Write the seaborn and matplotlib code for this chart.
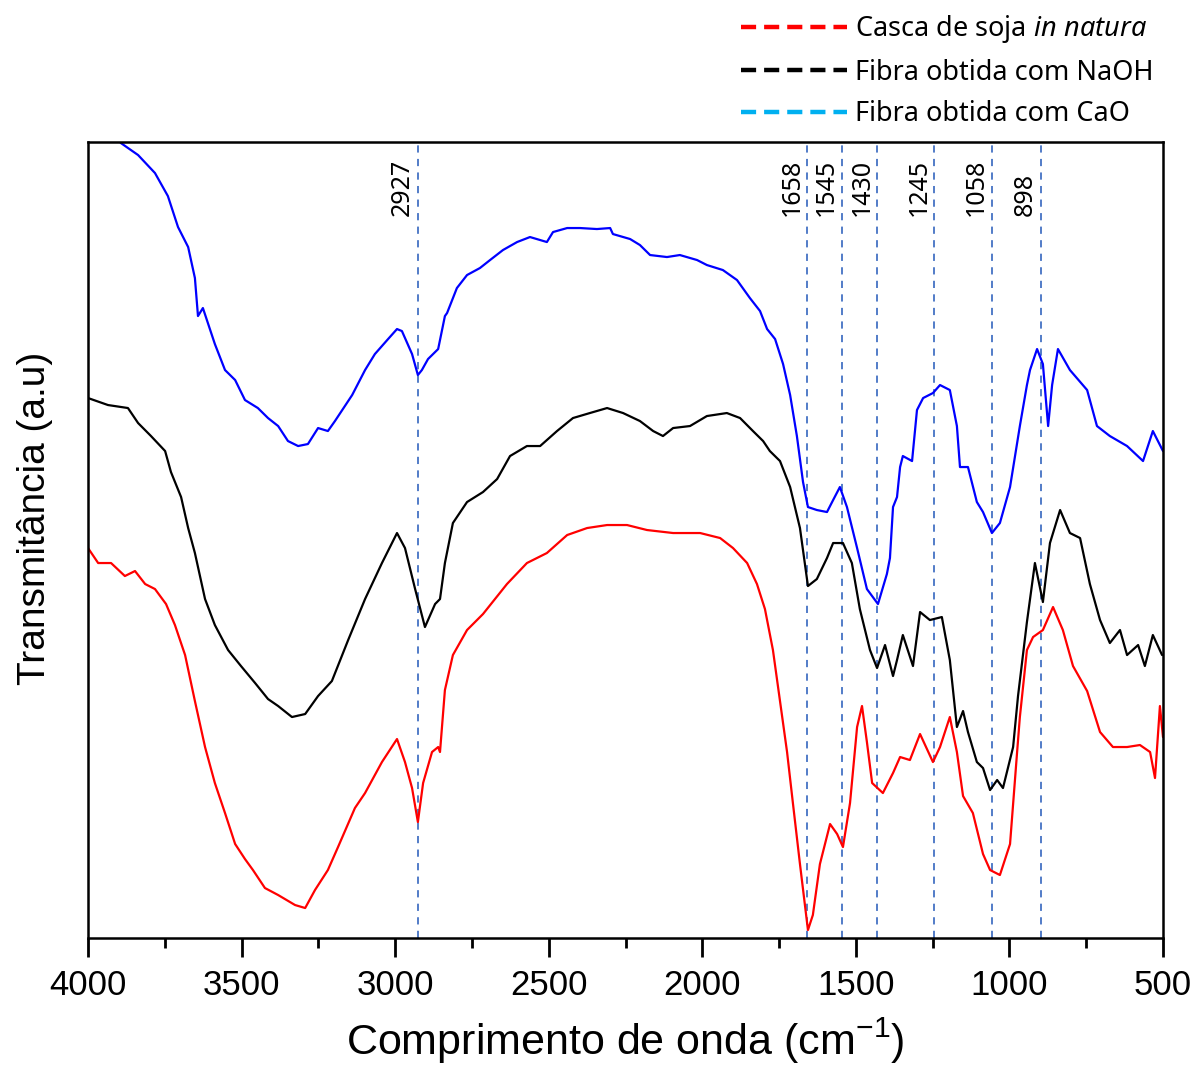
import pandas as pd
import numpy as np
import matplotlib
matplotlib.use("Agg")
import matplotlib.pyplot as plt
from matplotlib.lines import Line2D
from matplotlib.ticker import MultipleLocator, NullLocator
import seaborn as sns

# FTIR spectra (wavenumber cm-1, transmittance a.u.)
blue_w = [3905, 3893, 3837, 3782, 3740, 3707, 3674, 3652, 3642, 3626, 3587, 3554, 3521, 3489, 3447, 3414,
          3381, 3349, 3316, 3284, 3251, 3219, 3196, 3140, 3098, 3066, 3023, 2994, 2978, 2945, 2926, 2913,
          2893, 2860, 2838, 2831, 2799, 2766, 2724, 2691, 2649, 2603, 2561, 2506, 2486, 2440, 2398, 2343,
          2300, 2291, 2235, 2203, 2170, 2115, 2073, 2017, 1985, 1933, 1887, 1845, 1812, 1789, 1763, 1737,
          1714, 1692, 1672, 1656, 1627, 1594, 1574, 1552, 1529, 1496, 1464, 1428, 1399, 1389, 1379, 1366,
          1356, 1347, 1317, 1301, 1281, 1249, 1226, 1194, 1171, 1161, 1135, 1106, 1086, 1057, 1031, 998,
          966, 943, 933, 910, 891, 874, 861, 842, 803, 747, 715, 673, 617, 565, 533, 500]
blue_t = [800, 795, 783, 765, 742, 711, 691, 660, 622, 630, 594, 568, 558, 538, 530, 520,
          512, 497, 492, 494, 510, 507, 517, 543, 568, 584, 599, 609, 607, 584, 563, 568,
          579, 589, 622, 625, 650, 663, 670, 678, 688, 696, 701, 696, 706, 710, 710, 709,
          710, 704, 699, 693, 683, 681, 683, 678, 673, 668, 658, 640, 627, 609, 599, 574,
          543, 502, 456, 431, 428, 426, 438, 451, 431, 390, 349, 334, 364, 380, 431, 441,
          471, 482, 477, 528, 540, 545, 553, 548, 512, 471, 471, 436, 426, 405, 415, 451,
          512, 553, 568, 589, 574, 512, 553, 589, 568, 548, 512, 502, 492, 477, 507, 487]

black_w = [4000, 3935, 3870, 3837, 3795, 3749, 3730, 3697, 3674, 3652, 3619, 3587, 3544, 3502, 3456, 3414,
           3381, 3336, 3293, 3251, 3206, 3153, 3098, 3043, 2994, 2968, 2935, 2903, 2870, 2854, 2838, 2812,
           2766, 2714, 2668, 2626, 2571, 2528, 2473, 2421, 2366, 2310, 2258, 2203, 2160, 2128, 2095, 2040,
           1985, 1920, 1877, 1835, 1802, 1780, 1747, 1714, 1682, 1656, 1627, 1594, 1574, 1542, 1513, 1487,
           1454, 1431, 1405, 1379, 1366, 1347, 1314, 1291, 1259, 1220, 1194, 1171, 1151, 1135, 1106, 1086,
           1063, 1040, 1021, 988, 972, 943, 917, 891, 868, 835, 803, 770, 738, 705, 673, 640, 617, 581,
           559, 533, 503]
black_t = [540, 533, 530, 515, 502, 487, 466, 441, 410, 385, 339, 313, 288, 272, 255, 239,
           232, 221, 224, 242, 257, 298, 339, 375, 405, 390, 349, 311, 334, 339, 375, 415,
           436, 446, 459, 482, 492, 492, 507, 520, 525, 530, 525, 517, 507, 502, 510, 512,
           522, 525, 520, 507, 497, 487, 477, 451, 410, 352, 359, 380, 395, 395, 375, 329,
           288, 270, 293, 262, 278, 303, 272, 326, 318, 321, 278, 211, 227, 206, 176, 170,
           148, 158, 150, 191, 242, 316, 375, 336, 395, 428, 405, 400, 354, 318, 295, 308, 283, 293,
           272, 303, 283]

red_w = [4000, 3967, 3925, 3880, 3847, 3814, 3782, 3746, 3717, 3684, 3652, 3619, 3587, 3554, 3521, 3489,
         3463, 3424, 3381, 3326, 3293, 3261, 3219, 3186, 3131, 3098, 3043, 2994, 2968, 2945, 2926, 2909,
         2880, 2860, 2854, 2838, 2812, 2766, 2714, 2636, 2571, 2506, 2440, 2375, 2310, 2245, 2180, 2095,
         2007, 1942, 1900, 1854, 1822, 1796, 1770, 1747, 1724, 1705, 1682, 1656, 1640, 1617, 1584, 1561,
         1542, 1519, 1496, 1480, 1464, 1447, 1412, 1379, 1356, 1324, 1291, 1249, 1226, 1194, 1171, 1151,
         1119, 1086, 1063, 1031, 998, 975, 966, 943, 923, 891, 858, 826, 793, 747, 705, 663,
         617, 575, 542, 526, 510, 500]
red_t = [390, 375, 375, 362, 367, 354, 349, 334, 313, 283, 237, 191, 155, 125, 94, 79,
         68, 50, 43, 33, 30, 48, 68, 91, 130, 145, 176, 199, 176, 150, 116, 155,
         186, 191, 186, 248, 283, 308, 324, 354, 375, 385, 403, 410, 413, 413, 408, 405,
         405, 400, 390, 375, 354, 329, 288, 237, 186, 135, 74, 8, 23, 74, 114, 104,
         91, 135, 211, 232, 196, 155, 145, 165, 181, 178, 204, 176, 191, 221, 186, 142,
         125, 84, 68, 63, 94, 186, 221, 288, 301, 308, 331, 308, 272, 247, 206, 191,
         191, 193, 186, 160, 232, 201]

peaks = [2927, 1658, 1545, 1430, 1245, 1058, 898]

names = ["Casca de soja in natura", "Fibra obtida com NaOH", "Fibra obtida com CaO"]
legend_labels = [r"Casca de soja $\mathit{in\ natura}$", "Fibra obtida com NaOH", "Fibra obtida com CaO"]
legend_colors = ["#FF0000", "#000000", "#00B0F0"]
curve_colors = {names[0]: "#FF0000", names[1]: "#000000", names[2]: "#0000FF"}

df = pd.concat([
    pd.DataFrame({"w": red_w, "t": red_t, "amostra": names[0]}),
    pd.DataFrame({"w": black_w, "t": black_t, "amostra": names[1]}),
    pd.DataFrame({"w": blue_w, "t": blue_t, "amostra": names[2]}),
])

sns.set_style("ticks", {"axes.edgecolor": "black", "text.color": "black",
                        "axes.labelcolor": "black", "xtick.color": "black"})
plt.rcParams["font.family"] = ["Liberation Sans", "DejaVu Sans"]
plt.rcParams["mathtext.fontset"] = "custom"
plt.rcParams["mathtext.rm"] = "Noto Sans"
plt.rcParams["mathtext.it"] = "Noto Sans:italic"
plt.rcParams["mathtext.sf"] = "Liberation Sans"

fig = plt.figure(figsize=(11.96, 10.68), dpi=100)
ax = fig.add_axes([0.0736, 0.1217, 0.8988, 0.7453])

sns.lineplot(data=df, x="w", y="t", hue="amostra", palette=curve_colors,
             estimator=None, sort=False, linewidth=1.6, legend=False, ax=ax)

for p in peaks:
    ax.axvline(p, color="#4472C4", lw=1.3, ls=(0, (4, 3.5)), zorder=1)
    ax.text(p + 50, 722, str(p), rotation=90, ha="center", va="bottom",
            fontsize=18, color="black", family=["Noto Sans", "DejaVu Sans"])

ax.set_xlim(4000, 500)
ax.set_ylim(0, 796)
ax.xaxis.set_major_locator(MultipleLocator(500))
ax.xaxis.set_minor_locator(MultipleLocator(250))
ax.yaxis.set_major_locator(NullLocator())
ax.tick_params(axis="x", which="major", direction="out", length=14, width=2,
               labelsize=25, pad=8, colors="black")
ax.tick_params(axis="x", which="minor", direction="out", length=7, width=2, colors="black")
for s in ax.spines.values():
    s.set_linewidth(1.8)
    s.set_color("black")
    s.set_visible(True)

ax.set_xlabel(r"Comprimento de onda (cm$^{\mathsf{-1}}$)", fontsize=31, color="black")
ax.set_ylabel("Transmitância (a.u)", fontsize=28, color="black")
ax.xaxis.set_label_coords(0.5, -0.098)
ax.yaxis.set_label_coords(-0.033, 0.527)

handles = [Line2D([], [], color=c, lw=3.2, ls=(0, (3.4, 1.8))) for c in legend_colors]
leg = fig.legend(handles, legend_labels, loc="upper left", bbox_to_anchor=(0.606, 1.003),
                 frameon=False, handlelength=3.9, handletextpad=0.3,
                 labelspacing=0.5, borderaxespad=0.2,
                 prop={"family": ["Noto Sans", "DejaVu Sans"], "size": 19.5})
for t in leg.get_texts():
    t.set_color("black")

fig.savefig("out.png", dpi=100)
